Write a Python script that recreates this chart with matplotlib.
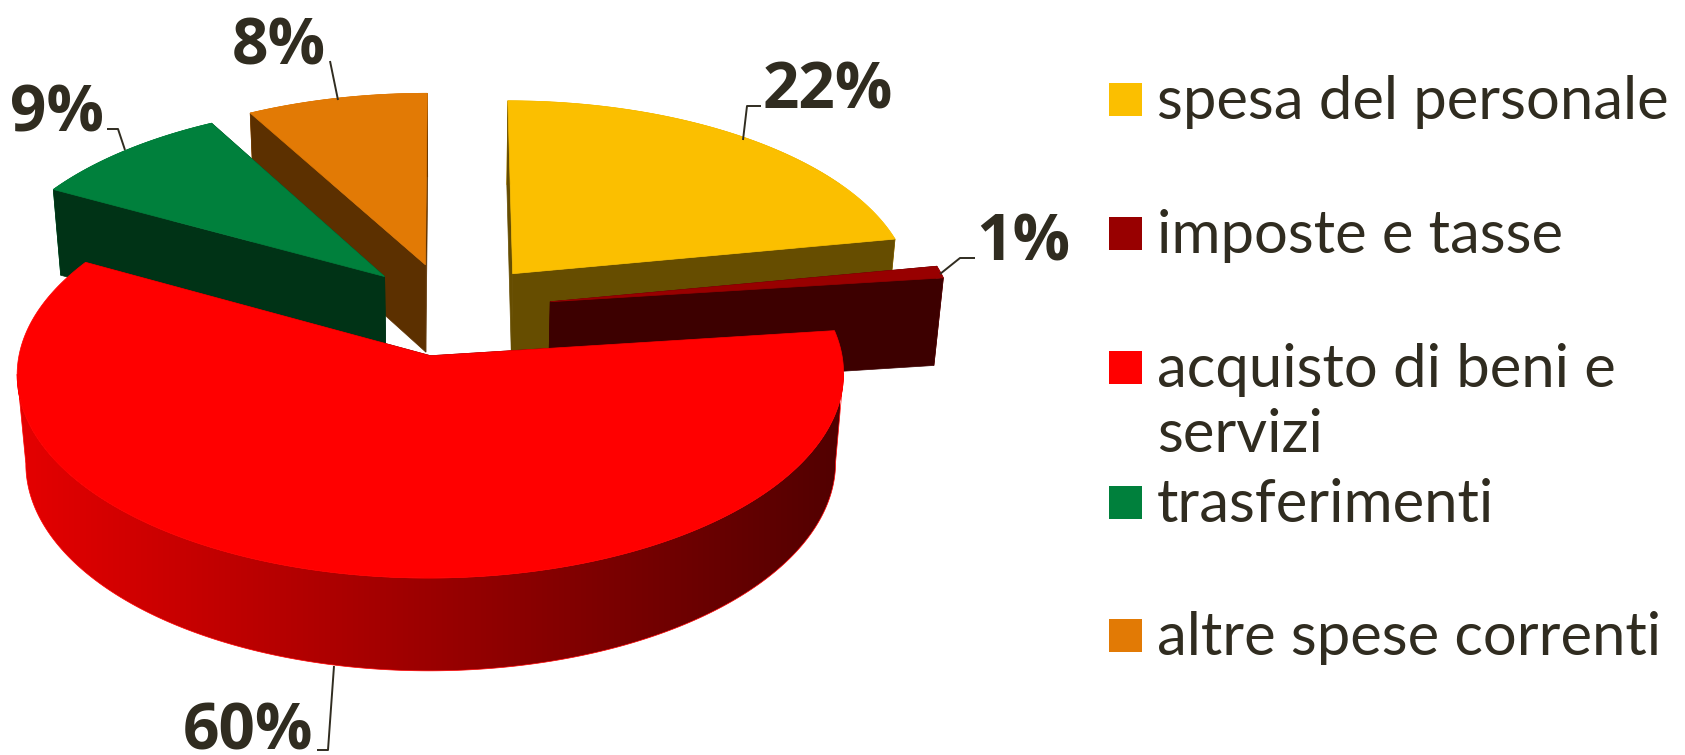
import numpy as np
import matplotlib
matplotlib.use("Agg")
import matplotlib.pyplot as plt
from matplotlib.patches import Polygon, Rectangle

categories = ["spesa del personale", "imposte e tasse", "acquisto di beni e\nservizi",
              "trasferimenti", "altre spese correnti"]
shares = [22, 1, 60, 9, 8]
labels = ["22%", "1%", "60%", "9%", "8%"]
top_colors = ["#FBBF00", "#980000", "#FF0000", "#00803C", "#E27A05"]
face_colors = ["#664D00", "#3D0000", "#3D0000", "#003316", "#5C3000"]
draw_order = [4, 3, 0, 1, 2]
slice_dx = [3, 6, 0, 3, 0]

TEXT = "#302C20"
W, H = 1685, 755
CX, CY, RX, RY, DEPTH = 449, 309, 403, 194, 90
K, M, EXPLODE = 0.088, 0.02, 0.24

fig = plt.figure(figsize=(W / 100, H / 100), dpi=100, facecolor="white")
ax = fig.add_axes([0, 0, 1, 1])
ax.axis("off")


def project(X, Y, z=0.0):
    d = 1 + K * np.asarray(Y) + M * z
    return CX + RX * np.asarray(X) / d, CY - RY * np.asarray(Y) / d + DEPTH * z / d


fractions = np.array(shares) / sum(shares)
edges = np.concatenate([[0], np.cumsum(fractions)]) * 2 * np.pi
ramp = np.linspace(0.90, 0.32, 400)

for i in draw_order:
    a0, a1 = edges[i], edges[i + 1]
    mid = (a0 + a1) / 2
    ox, oy = EXPLODE * np.sin(mid), EXPLODE * np.cos(mid)
    t = np.linspace(a0, a1, max(8, int((a1 - a0) * 120)))
    X, Y = ox + np.sin(t), oy + np.cos(t)
    xt, yt = project(X, Y, 0)
    xb, yb = project(X, Y, 1)
    xt, xb = xt + slice_dx[i], xb + slice_dx[i]
    ax0, ay0 = project(ox, oy, 0)
    bx0, by0 = project(ox, oy, 1)
    ax0, bx0 = ax0 + slice_dx[i], bx0 + slice_dx[i]
    z0 = draw_order.index(i) * 3

    # outer rim: only the stretch between the widest points, so its outline never crosses itself
    base = np.array(matplotlib.colors.to_rgb(top_colors[i]))
    i0, i1 = sorted((int(np.argmax(xt)), int(np.argmin(xt))))
    rim_pts = np.r_[np.column_stack([xt[i0:i1 + 1], yt[i0:i1 + 1]]),
                    np.column_stack([xb[i0:i1 + 1], yb[i0:i1 + 1]])[::-1]]
    rim = Polygon(rim_pts, closed=True, fc="none", ec="none", transform=ax.transData)
    ax.add_patch(rim)
    grad = ramp[None, :, None] * base[None, None, :]
    img = ax.imshow(grad, extent=(15, 840, H, 0), aspect="auto", zorder=z0 + 1, interpolation="bilinear")
    img.set_clip_path(rim)
    ax.add_patch(Polygon(rim_pts, closed=True, fc="none", ec=top_colors[i], lw=0.5, zorder=z0 + 1))

    # radial faces
    for idx in (0, -1):
        ax.add_patch(Polygon([(ax0, ay0), (xt[idx], yt[idx]), (xb[idx], yb[idx]), (bx0, by0)],
                             closed=True, fc=face_colors[i], ec=face_colors[i], lw=0.5, zorder=z0 + 2))

    # top
    ax.add_patch(Polygon(np.column_stack([np.r_[ax0, xt], np.r_[ay0, yt]]), closed=True,
                         fc=top_colors[i], ec=top_colors[i], lw=0.5, zorder=z0 + 3))

ax.set_xlim(0, W)
ax.set_ylim(H, 0)

# data labels and leader lines
label_pos = [(828, 84), (1023, 236), (248, 725), (57, 107), (279, 40)]
leaders = [
    [(743, 140), (747, 106), (761, 106)],
    [(940, 274), (960, 258), (975, 258)],
    [(334, 666), (328, 750), (317, 750)],
    [(125, 150), (118, 129), (107, 129)],
    [(338, 100), (330, 61)],
]
for (x, y), s, pts in zip(label_pos, labels, leaders):
    ax.text(x, y, s, fontsize=46, fontweight="bold", family="Open Sans", color=TEXT,
            ha="center", va="center_baseline", zorder=30)
    ax.plot(*zip(*pts), color=TEXT, lw=1.4, zorder=29, solid_capstyle="butt")

# legend
sq_x, sq = 1109, 33
ys = [99, 233, 367, 502, 635]
for y, name, col in zip(ys, categories, top_colors):
    ax.add_patch(Rectangle((sq_x, y - sq / 2), sq, sq, fc=col, ec="none", zorder=30))
    parts = name.split("\n")
    ax.text(1157, y + 3, parts[0], fontsize=43, family="Lato", color=TEXT,
            ha="left", va="center", zorder=30)
    if len(parts) > 1:
        ax.text(1157, y + 68, parts[1], fontsize=43, family="Lato", color=TEXT,
                ha="left", va="center", zorder=30)

fig.savefig("out.png", dpi=100, facecolor="white")
